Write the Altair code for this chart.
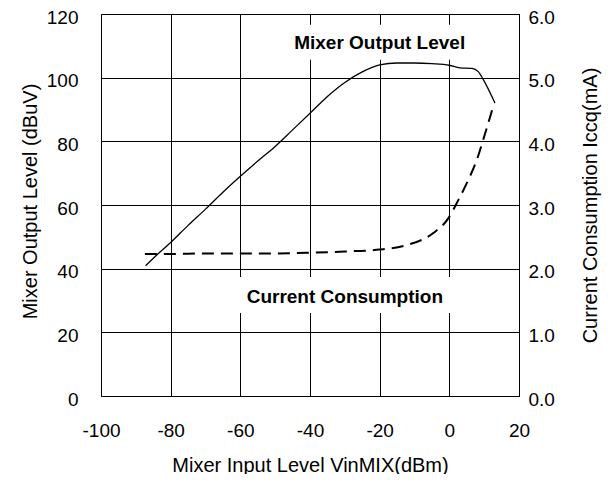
import altair as alt
import pandas as pd

# Mixer output level (dBuV) vs input level (dBm)
x_out = [-87.2, -84, -80, -75, -70, -65, -60, -55, -50, -45, -40, -35, -30, -25,
         -20, -15, -10, -5, 0, 3, 6.5, 8.3, 9.8, 13.1]
y_out = [40.9, 44.3, 48.2, 53.6, 58.7, 64.0, 69.0, 73.8, 78.4, 83.6, 88.8, 94.1,
         98.5, 101.8, 104.0, 104.6, 104.6, 104.4, 103.9, 103.1, 102.9, 101.9, 99.3, 92.0]

# Current consumption (mA) vs input level (dBm)
x_cur = [-87.4, -80, -70, -60, -50, -40, -30, -20, -12.2, -4.6, -0.3, 2.6, 5.5,
         7.9, 9.7, 12.6]
i_cur = [2.23, 2.23, 2.24, 2.24, 2.24, 2.25, 2.27, 2.30, 2.37, 2.56, 2.79, 3.08,
         3.40, 3.71, 4.02, 4.55]

x_ticks = [-100, -80, -60, -40, -20, 0, 20]
left_ticks = [0, 20, 40, 60, 80, 100, 120]
right_ticks = [0, 1, 2, 3, 4, 5, 6]

ann_text = ["Mixer Output Level", "Current Consumption"]
ann_x = [-20, -30]
ann_y = [110.9, 31.2]
box_x1 = [-45.7, -61.2]
box_x2 = [6.2, 1.9]
box_y1 = [105.6, 26.1]
box_y2 = [116.6, 37.4]

FONT = "Liberation Sans"

out_df = pd.DataFrame({"x": x_out, "y": y_out})
cur_df = pd.DataFrame({"x": x_cur, "i": i_cur})
ann_df = pd.DataFrame({"t": ann_text, "x": ann_x, "y": ann_y,
                       "bx1": box_x1, "bx2": box_x2, "by1": box_y1, "by2": box_y2})

xscale = alt.Scale(domain=[-100, 20], nice=False, zero=False)
yscale = alt.Scale(domain=[0, 120], nice=False, zero=False)
rscale = alt.Scale(domain=[0, 6], nice=False, zero=False)

x_axis = alt.Axis(title="Mixer Input Level VinMIX(dBm)", values=x_ticks, grid=True,
                  gridColor="black", gridWidth=1, gridOpacity=1, domain=False,
                  ticks=False, tickSize=0, labelPadding=25, labelFlush=False,
                  labelExpr="'' + datum.value",
                  labelFont=FONT, labelFontSize=19, labelColor="black",
                  titleFont=FONT, titleFontSize=20, titleFontWeight="normal",
                  titleColor="black", titleY=69, titleBaseline="middle")

y_axis = alt.Axis(title="Mixer Output Level (dBuV)", values=left_ticks, grid=True,
                  gridColor="black", gridWidth=1, gridOpacity=1, domain=False,
                  ticks=False, tickSize=0, labelPadding=23, labelFlush=False,
                  labelOffset=3,
                  labelFont=FONT, labelFontSize=19, labelColor="black",
                  titleFont=FONT, titleFontSize=20, titleFontWeight="normal",
                  titleColor="black", titleAngle=270, titleX=-71, titleY=187,
                  titleBaseline="middle", titleAlign="center")

r_axis = alt.Axis(title="Current Consumption Iccq(mA)", values=right_ticks, grid=False,
                  orient="right", format=".1f", domain=False, ticks=False, tickSize=0,
                  labelPadding=9, labelFlush=False, labelOffset=3,
                  labelFont=FONT, labelFontSize=19, labelColor="black",
                  titleFont=FONT, titleFontSize=20, titleFontWeight="normal",
                  titleColor="black", titleAngle=270, titleX=71, titleY=191,
                  titleBaseline="middle", titleAlign="center")

boxes = alt.Chart(ann_df).mark_rect(color="white").encode(
    x=alt.X("bx1:Q", scale=xscale, axis=x_axis),
    x2="bx2:Q",
    y=alt.Y("by1:Q", scale=yscale, axis=y_axis),
    y2="by2:Q",
)

out_line = alt.Chart(out_df).mark_line(color="black", strokeWidth=1.3,
                                       interpolate="monotone").encode(
    x=alt.X("x:Q", scale=xscale, axis=x_axis),
    y=alt.Y("y:Q", scale=yscale, axis=y_axis),
)

labels = alt.Chart(ann_df).mark_text(font=FONT, fontSize=19, fontWeight="bold",
                                     color="black", align="center",
                                     baseline="middle").encode(
    x=alt.X("x:Q", scale=xscale, axis=x_axis),
    y=alt.Y("y:Q", scale=yscale, axis=y_axis),
    text="t:N",
)

left_group = alt.layer(boxes, out_line, labels)

cur_line = alt.Chart(cur_df).mark_line(color="black", strokeWidth=2,
                                       strokeDash=[12, 7],
                                       interpolate="monotone").encode(
    x=alt.X("x:Q", scale=xscale, axis=x_axis),
    y=alt.Y("i:Q", scale=rscale, axis=r_axis),
)

chart = alt.layer(left_group, cur_line).resolve_scale(y="independent").properties(
    width=418, height=382,
    autosize=alt.AutoSizeParams(type="none"),
    padding={"left": 93, "top": 6, "right": 83, "bottom": 78},
).configure_view(stroke="black", strokeWidth=1)

chart.save("out.html", embed_options={"renderer": "svg", "actions": False})
